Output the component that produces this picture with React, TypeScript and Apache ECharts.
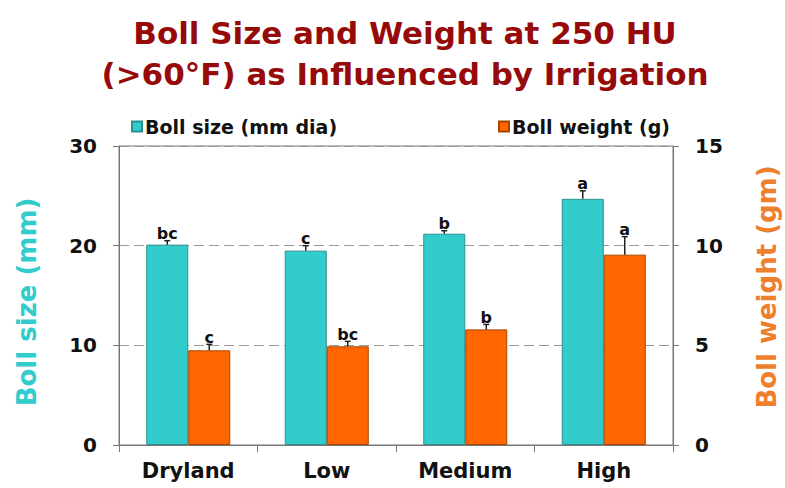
import React, { useEffect, useRef } from "react";
import * as echarts from "echarts";

const categories = ["Dryland", "Low", "Medium", "High"];
const bollSize = [20.1, 19.5, 21.2, 24.7];
const bollSizeErr = [0.4, 0.5, 0.3, 0.8];
const bollSizeLetters = ["bc", "c", "b", "a"];
const bollWeight = [4.75, 4.95, 5.8, 9.55];
const bollWeightErr = [0.3, 0.25, 0.25, 0.9];
const bollWeightLetters = ["c", "bc", "b", "a"];
const leftTicks = { min: 0, max: 30, interval: 10 };
const rightTicks = { min: 0, max: 15, interval: 5 };

const FONT = "DejaVu Sans";
const CYAN = "#33CCCC";
const ORANGE = "#FF6600";
const BAR_W = 42;

function errorSeries(vals: number[], errs: number[], letters: string[], yAxisIndex: number, offset: number) {
  return {
    type: "custom",
    yAxisIndex,
    z: 5,
    silent: true,
    data: vals.map((v, i) => [i, v, errs[i]]),
    encode: { x: 0, y: 1 },
    renderItem: (params: any, api: any) => {
      const i = api.value(0);
      const v = api.value(1);
      const e = api.value(2);
      const base = api.coord([i, v]);
      const top = api.coord([i, v + e]);
      const x = base[0] + offset;
      return {
        type: "group",
        children: [
          { type: "line", shape: { x1: x, y1: base[1], x2: x, y2: top[1] }, style: { stroke: "#222", lineWidth: 1.5 } },
          { type: "line", shape: { x1: x - 3, y1: top[1], x2: x + 3, y2: top[1] }, style: { stroke: "#222", lineWidth: 1.5 } },
          {
            type: "text",
            x,
            y: top[1] + 1,
            style: {
              text: letters[params.dataIndex],
              fill: "#111",
              fontSize: 16,
              fontWeight: "bold",
              fontFamily: FONT,
              align: "center",
              verticalAlign: "bottom",
            },
          },
        ],
      };
    },
  };
}

export default function App() {
  const ref = useRef<HTMLDivElement>(null);
  useEffect(() => {
    if (!ref.current) return;
    const chart = echarts.init(ref.current, null, { renderer: "svg" });
    chart.setOption({
      animation: false,
      backgroundColor: "#fff",
      title: {
        text: "Boll Size and Weight at 250 HU\n(>60°F) as Influenced by Irrigation",
        left: 405,
        top: 12,
        textAlign: "center",
        padding: 0,
        textStyle: { fontFamily: FONT, fontSize: 31, fontWeight: "bold", color: "#960A0A", lineHeight: 41 },
      },
      legend: [
        {
          data: ["Boll size (mm dia)"],
          left: 131,
          top: 117,
          icon: "rect",
          itemWidth: 10,
          itemHeight: 10,
          padding: 0,
          textStyle: { fontFamily: FONT, fontSize: 19, fontWeight: "bold", color: "#111", padding: [0, 0, 0, -2] },
        },
        {
          data: ["Boll weight (g)"],
          left: 498,
          top: 117,
          icon: "rect",
          itemWidth: 10,
          itemHeight: 10,
          padding: 0,
          textStyle: { fontFamily: FONT, fontSize: 19, fontWeight: "bold", color: "#111", padding: [0, 0, 0, -2] },
        },
      ],
      grid: { left: 119, right: 112, top: 146, bottom: 43, show: true, borderColor: "#777", borderWidth: 1 },
      xAxis: {
        type: "category",
        data: categories,
        axisLine: { lineStyle: { color: "#777", width: 1 } },
        axisTick: { show: true, length: 7, lineStyle: { color: "#777" } },
        axisLabel: { fontFamily: FONT, fontSize: 21, fontWeight: "bold", color: "#111", margin: 15 },
      },
      yAxis: [
        {
          type: "value",
          position: "left",
          ...leftTicks,
          axisLine: { show: true, lineStyle: { color: "#777" } },
          axisTick: { show: true, length: 6, lineStyle: { color: "#777" } },
          axisLabel: { fontFamily: FONT, fontSize: 20, fontWeight: "bold", color: "#111", margin: 22 },
          splitLine: { show: true, lineStyle: { color: "#999", type: [10, 5], width: 1 } },
        },
        {
          type: "value",
          position: "right",
          ...rightTicks,
          axisLine: { show: true, lineStyle: { color: "#777" } },
          axisTick: { show: true, length: 6, lineStyle: { color: "#777" } },
          axisLabel: { fontFamily: FONT, fontSize: 20, fontWeight: "bold", color: "#111", margin: 22 },
          splitLine: { show: false },
        },
      ],
      graphic: [
        {
          type: "text",
          x: 27,
          y: 302,
          rotation: Math.PI / 2,
          style: { text: "Boll size (mm)", fill: CYAN, fontSize: 26, fontWeight: "bold", fontFamily: FONT, align: "center", verticalAlign: "middle" },
        },
        {
          type: "text",
          x: 767,
          y: 287,
          rotation: Math.PI / 2,
          style: { text: "Boll weight (gm)", fill: "#EE7F2D", fontSize: 26, fontWeight: "bold", fontFamily: FONT, align: "center", verticalAlign: "middle" },
        },
      ],
      series: [
        {
          name: "Boll size (mm dia)",
          type: "bar",
          yAxisIndex: 0,
          data: bollSize,
          barWidth: BAR_W,
          barGap: "0%",
          itemStyle: { color: CYAN, borderColor: "#2B8F8F", borderWidth: 1 },
        },
        {
          name: "Boll weight (g)",
          type: "bar",
          yAxisIndex: 1,
          data: bollWeight,
          barWidth: BAR_W,
          barGap: "0%",
          itemStyle: { color: ORANGE, borderColor: "#A84300", borderWidth: 1 },
        },
        errorSeries(bollSize, bollSizeErr, bollSizeLetters, 0, -BAR_W / 2),
        errorSeries(bollWeight, bollWeightErr, bollWeightLetters, 1, BAR_W / 2),
      ],
    });
    return () => chart.dispose();
  }, []);
  return <div ref={ref} style={{ position: "fixed", left: 0, top: 0, width: 785, height: 488 }} />;
}
